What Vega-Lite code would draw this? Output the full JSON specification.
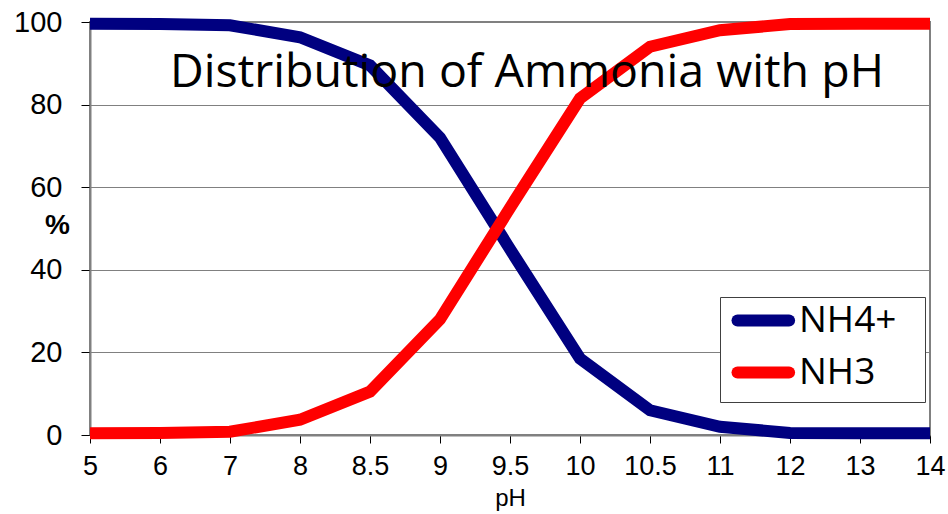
{
  "$schema": "https://vega.github.io/schema/vega-lite/v6.json",
  "width": 840,
  "height": 413,
  "autosize": {"type": "none"},
  "padding": {"left": 90, "top": 22, "right": 18, "bottom": 79},
  "background": "white",
  "title": {
    "text": "Distribution of Ammonia with pH",
    "frame": "group",
    "anchor": "middle",
    "orient": "top",
    "offset": -97,
    "dx": 17,
    "font": "Open Sans",
    "fontSize": 46.5,
    "fontWeight": "normal",
    "color": "black"
  },
  "config": {
    "view": {"stroke": "#808080", "strokeWidth": 2},
    "axis": {
      "labelFont": "Liberation Sans",
      "titleFont": "Liberation Sans",
      "labelColor": "black",
      "titleColor": "black",
      "domainColor": "#808080",
      "tickColor": "#000000",
      "gridColor": "#808080",
      "gridOpacity": 1
    }
  },
  "data": {
    "values": [
      {"pH": "5", "species": "NH4+", "pct": 99.6},
      {"pH": "6", "species": "NH4+", "pct": 99.5},
      {"pH": "7", "species": "NH4+", "pct": 99.2},
      {"pH": "8", "species": "NH4+", "pct": 96.3},
      {"pH": "8.5", "species": "NH4+", "pct": 89.5},
      {"pH": "9", "species": "NH4+", "pct": 72},
      {"pH": "9.5", "species": "NH4+", "pct": 45},
      {"pH": "10", "species": "NH4+", "pct": 18.5},
      {"pH": "10.5", "species": "NH4+", "pct": 6},
      {"pH": "11", "species": "NH4+", "pct": 2},
      {"pH": "12", "species": "NH4+", "pct": 0.5},
      {"pH": "13", "species": "NH4+", "pct": 0.4},
      {"pH": "14", "species": "NH4+", "pct": 0.4},
      {"pH": "5", "species": "NH3", "pct": 0.4},
      {"pH": "6", "species": "NH3", "pct": 0.5},
      {"pH": "7", "species": "NH3", "pct": 0.8},
      {"pH": "8", "species": "NH3", "pct": 3.7},
      {"pH": "8.5", "species": "NH3", "pct": 10.5},
      {"pH": "9", "species": "NH3", "pct": 28},
      {"pH": "9.5", "species": "NH3", "pct": 55},
      {"pH": "10", "species": "NH3", "pct": 81.5},
      {"pH": "10.5", "species": "NH3", "pct": 94},
      {"pH": "11", "species": "NH3", "pct": 98},
      {"pH": "12", "species": "NH3", "pct": 99.5},
      {"pH": "13", "species": "NH3", "pct": 99.6},
      {"pH": "14", "species": "NH3", "pct": 99.6}
    ]
  },
  "mark": {"type": "line", "strokeWidth": 12, "strokeJoin": "miter", "strokeCap": "butt"},
  "encoding": {
    "x": {
      "field": "pH",
      "type": "ordinal",
      "sort": ["5", "6", "7", "8", "8.5", "9", "9.5", "10", "10.5", "11", "12", "13", "14"],
      "scale": {"type": "point", "padding": 0},
      "axis": {
        "title": "pH",
        "labelAngle": 0,
        "labelFontSize": 27,
        "labelPadding": 10,
        "tickSize": 8,
        "titleFontSize": 24,
        "titleFontWeight": "normal",
        "titlePadding": 7,
        "domainWidth": 2,
        "grid": false
      }
    },
    "y": {
      "field": "pct",
      "type": "quantitative",
      "scale": {"domain": [0, 100]},
      "axis": {
        "title": "%",
        "values": [0, 20, 40, 60, 80, 100],
        "labelFontSize": 29,
        "labelPadding": 19,
        "tickSize": 9,
        "titleFontSize": 28,
        "titleFontWeight": "bold",
        "titleAngle": 0,
        "titleAlign": "center",
        "titleBaseline": "middle",
        "titleX": -33,
        "titleY": 203,
        "domainWidth": 2,
        "grid": true,
        "gridWidth": 1
      }
    },
    "color": {
      "field": "species",
      "type": "nominal",
      "scale": {"domain": ["NH4+", "NH3"], "range": ["#000080", "#FF0000"]},
      "legend": {
        "title": "\u00a0",
        "titleOrient": "right",
        "titlePadding": 24,
        "titleFontSize": 4,
        "orient": "none",
        "legendX": 630,
        "legendY": 275,
        "symbolType": "M-1,0H3.3",
        "symbolStrokeWidth": 12,
        "symbolSize": 576,
        "symbolOffset": 6,
        "labelFont": "Open Sans",
        "labelFontSize": 37,
        "labelColor": "black",
        "labelOffset": 31,
        "rowPadding": 3,
        "strokeColor": "#404040",
        "fillColor": "white",
        "padding": 5,
        "encode": {"symbols": {"update": {"strokeCap": {"value": "round"}}}}
      }
    }
  }
}
